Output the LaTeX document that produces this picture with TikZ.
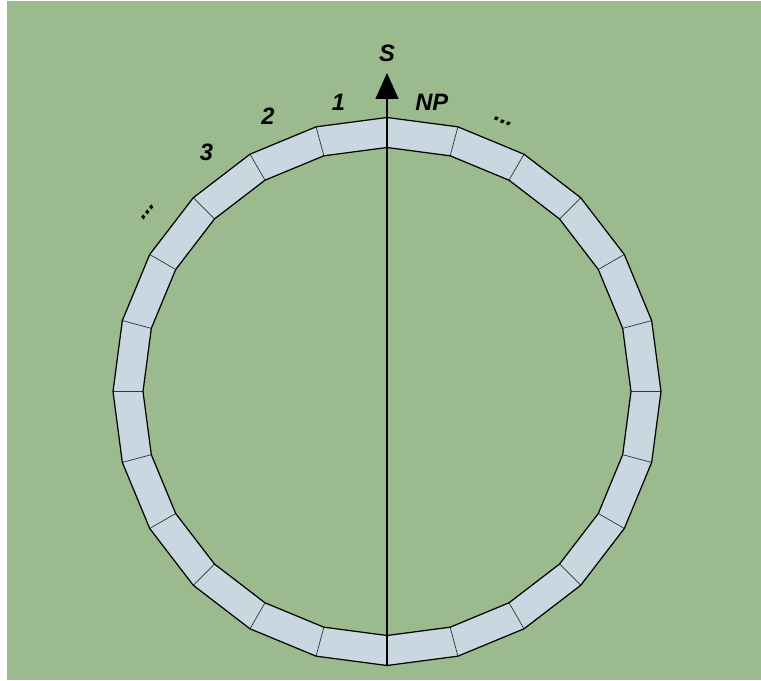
\documentclass[tikz,border=0pt]{standalone}
\usepackage{fontspec}
\setsansfont{Liberation Sans}
\usetikzlibrary{arrows.meta}
\newcommand{\rOut}{5.48}
\newcommand{\rIn}{4.88}

\begin{document}
\begin{tikzpicture}[x=1cm,y=1cm,
  lbl/.style={font=\sffamily\bfseries\itshape\fontsize{13.5}{16}\selectfont,inner sep=0pt},
  seg/.style={fill=cseg},
  radial/.style={line width=0.4pt,black!80},
  rim/.style={line width=0.7pt,black}]
\definecolor{cbg}{RGB}{155,187,143}
\definecolor{cseg}{RGB}{201,215,225}
\useasboundingbox (-7.74,-5.77) rectangle (7.48,7.83);
% background
\fill[cbg] (-7.60,-5.77) rectangle (7.48,7.81);
% ring of 24 segments
\foreach \i in {0,...,23}{
  \fill[seg] ({90+15*\i}:\rIn) -- ({90+15*\i}:\rOut)
    -- ({105+15*\i}:\rOut) -- ({105+15*\i}:\rIn) -- cycle;
  \draw[radial] ({90+15*\i}:\rIn) -- ({90+15*\i}:\rOut);
}
\draw[rim] (90:\rOut) \foreach \i in {1,...,23}{ -- ({90+15*\i}:\rOut)} -- cycle;
\draw[rim] (90:\rIn) \foreach \i in {1,...,23}{ -- ({90+15*\i}:\rIn)} -- cycle;
% start direction
\coordinate (bot) at (-90:\rOut);
\coordinate (tip) at (0,6.37);
\draw[line width=0.8pt,-{Triangle[length=5.2mm,width=4.6mm]}] (bot) -- (tip);
\node[lbl,above=2.2mm] (s) at (tip) {S};
% segment labels
\node[lbl] (n1) at (99.5:5.87) {1};
\node[lbl] (n2) at (113.4:5.99) {2};
\node[lbl] (n3) at (127:6.0) {3};
\node[lbl,rotate=50] (dl) at (143:5.98) {...};
\node[lbl] (np) at (81.2:5.86) {NP};
\node[lbl,rotate=-22] (dr) at (66.7:5.87) {...};
\end{tikzpicture}
\end{document}
